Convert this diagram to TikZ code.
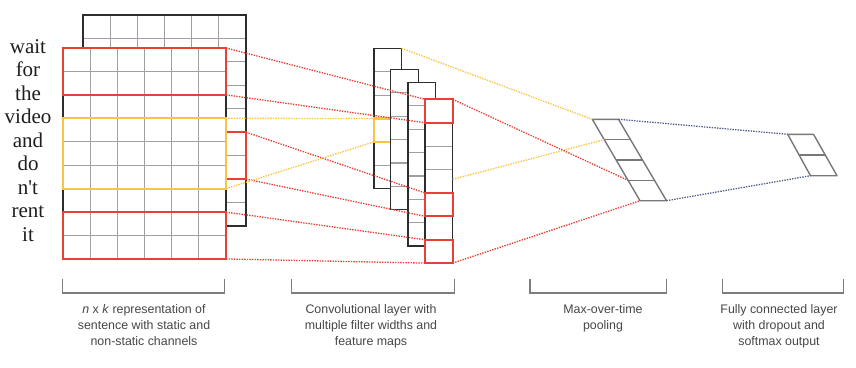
\documentclass[tikz,border=0pt]{standalone}
\usepackage{fontspec}
\setmainfont{Liberation Serif}
\setsansfont{Liberation Sans}
\usetikzlibrary{calc}
\definecolor{myred}{RGB}{232,64,54}
\definecolor{myyel}{RGB}{248,196,66}
\definecolor{myblue}{RGB}{80,96,140}
\definecolor{gridgray}{RGB}{160,160,160}
\definecolor{bordgray}{RGB}{45,45,45}
\definecolor{shapegray}{RGB}{120,120,120}
\definecolor{brackgray}{RGB}{125,125,125}
\definecolor{labgray}{RGB}{70,70,70}
\definecolor{wordcol}{RGB}{30,30,30}
\begin{document}
\begin{tikzpicture}[x=1pt,y=-1pt,
  gridln/.style={draw=gridgray,line width=1.2pt},
  bord/.style={draw=bordgray,line width=1.5pt},
  redbox/.style={draw=myred,line width=2.2pt},
  yelbox/.style={draw=myyel,line width=2.2pt},
  reddot/.style={draw=myred,line width=1.3pt,dash pattern=on 1.4pt off 1.2pt},
  yeldot/.style={draw=myyel,line width=1.3pt,dash pattern=on 1.4pt off 1.2pt},
  bluedot/.style={draw=myblue,line width=1.3pt,dash pattern=on 1.4pt off 1.2pt},
  poolshape/.style={draw=shapegray,line width=1.4pt,line join=round},
  brack/.style={draw=brackgray,line width=1.3pt},
  lab/.style={font=\sffamily\fontsize{12.4}{16}\selectfont,text=labgray,align=center,anchor=north,inner sep=0pt},
  word/.style={font=\fontsize{21}{24}\selectfont,text=wordcol,inner sep=0pt,anchor=base}
]
\useasboundingbox (0,0) rectangle (856,367);
\def\cw{27.17}
\def\rh{23.44}
% ---------- back (non-static) channel ----------
\fill[white] (83,15) rectangle ++(163,211);
\foreach \i in {1,...,5} \draw[gridln] ({83+\i*\cw},15) -- ++(0,211);
\foreach \j in {1,...,8} \draw[gridln] (83,{15+\j*\rh}) -- ++(163,0);
\draw[bord] (83,15) rectangle ++(163,211);
\draw[redbox] (83,{15+5*\rh}) rectangle ++(163,{2*\rh});
% ---------- front (static) channel ----------
\fill[white] (63,48) rectangle ++(163,211);
\foreach \i in {1,...,5} \draw[gridln] ({63+\i*\cw},48) -- ++(0,211);
\foreach \j in {1,...,8} \draw[gridln] (63,{48+\j*\rh}) -- ++(163,0);
\draw[bord] (63,48) rectangle ++(163,211);
\draw[redbox] (63,48) rectangle ++(163,{2*\rh});
\draw[redbox] (63,{48+7*\rh}) rectangle ++(163,{2*\rh});
\draw[yelbox] (63,{48+3*\rh}) rectangle ++(163,{3*\rh});
% words
\foreach \w [count=\i from 0] in {wait,for,the,video,and,do,n\textquotesingle t,rent,it}
  \node[word] (w\i) at (28,{48+\i*\rh+5.5}) {\w};
% ---------- convolutional feature maps ----------
\def\mw{27.6}
\def\mr{23.4}
% map 1
\fill[white] (374,48.3) rectangle ++(\mw,{6*\mr});
\foreach \k in {1,...,5} \draw[gridln] (374,{48.3+\k*\mr}) -- ++(\mw,0);
\draw[bord] (374,48.3) rectangle ++(\mw,{6*\mr});
\draw[yelbox] (374,{48.3+3*\mr}) rectangle ++(\mw,\mr);
% maps 2-4
\foreach \mx/\my/\nr in {390.7/69.3/6,408/82.3/7,425/99.3/7}{
  \fill[white] (\mx,\my) rectangle ++(\mw,{\nr*\mr});
  \foreach \k in {1,...,\nr} \draw[gridln] (\mx,{\my+\k*\mr}) -- ++(\mw,0);
  \draw[bord] (\mx,\my) rectangle ++(\mw,{\nr*\mr});
}
\foreach \k in {0,4,6} \draw[redbox] (425,{99.3+\k*\mr}) rectangle ++(\mw,\mr);
% ---------- named points ----------
\coordinate (F0) at (226,48);
\coordinate (F2) at (226,{48+2*\rh});
\coordinate (F3) at (226,{48+3*\rh});
\coordinate (F6) at (226,{48+6*\rh});
\coordinate (F7) at (226,{48+7*\rh});
\coordinate (F9) at (226,{48+9*\rh});
\coordinate (B5) at (246,{15+5*\rh});
\coordinate (B7) at (246,{15+7*\rh});
\coordinate (Y3) at (374,{48.3+3*\mr});
\coordinate (Y4) at (374,{48.3+4*\mr});
\coordinate (A1) at ({374+\mw},48.3);
\foreach \k in {0,1,4,5,6,7} \coordinate (M\k) at (425,{99.3+\k*\mr});
\coordinate (R0) at ({425+\mw},99.3);
\coordinate (R7) at ({425+\mw},{99.3+7*\mr});
\coordinate (RY) at ({425+\mw},179.3);
% pooling
\coordinate (P1) at (592.3,119.3);
\coordinate (P2) at (618.5,119.3);
\coordinate (P3) at (640,200.7);
\coordinate (P4) at (666.5,200.7);
\coordinate (PL1) at ($(P1)!0.25!(P3)$);
\coordinate (PL3) at ($(P1)!0.75!(P3)$);
% fully connected
\coordinate (Q1) at (787.7,134.3);
\coordinate (Q2) at (813.5,134.3);
\coordinate (Q3) at (810.5,175.7);
\coordinate (Q4) at (837,175.7);
% ---------- pooling and output shapes ----------
\draw[poolshape] (P1) -- (P2) -- (P4) -- (P3) -- cycle;
\foreach \f in {0.25,0.5,0.75} \draw[poolshape] ($(P1)!\f!(P3)$) -- ($(P2)!\f!(P4)$);
\draw[poolshape] (Q1) -- (Q2) -- (Q4) -- (Q3) -- cycle;
\draw[poolshape] ($(Q1)!0.5!(Q3)$) -- ($(Q2)!0.5!(Q4)$);
% ---------- connectors ----------
\draw[reddot] (F0) -- (M0);
\draw[reddot] (F2) -- (M1);
\draw[reddot] (B5) -- (M4);
\draw[reddot] (B7) -- (M5);
\draw[reddot] (F7) -- (M6);
\draw[reddot] (F9) -- (M7);
\draw[yeldot] (F3) -- (Y3);
\draw[yeldot] (F6) -- (Y4);
\draw[yeldot] (A1) -- (P1);
\draw[yeldot] (RY) -- (PL1);
\draw[reddot] (R0) -- (PL3);
\draw[reddot] (R7) -- (P3);
\draw[bluedot] (P2) -- (Q1);
\draw[bluedot] (P4) -- (Q3);
% ---------- brackets and labels ----------
\foreach \a/\b in {62.7/224.3,291.7/454.3,530/666.7,722.7/843.3}
  \draw[brack] (\a,279) -- (\a,293) -- (\b,293) -- (\b,279);
\node[lab] (l1) at (144,304.5) {\textit{n} x \textit{k} representation of\\sentence with static and\\non-static channels};
\node[lab] (l2) at (371,304.5) {Convolutional layer with\\multiple filter widths and\\feature maps};
\node[lab] (l3) at (603,304.5) {Max-over-time\\pooling};
\node[lab] (l4) at (779,304.5) {Fully connected layer\\with dropout and\\softmax output};
\end{tikzpicture}
\end{document}
